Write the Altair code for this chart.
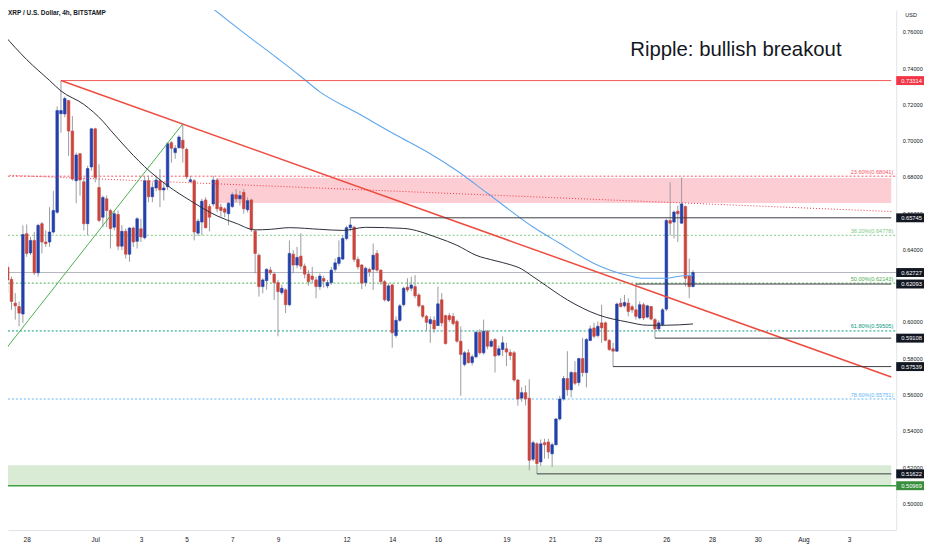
import altair as alt
import pandas as pd

# ---------------- data ----------------
START = "2021-06-28T00:00:00Z"      # 4h bar index 0
FIRST_BAR = -5                       # index of the first candle in the lists

opens = [0.6302,0.6235,0.6104,0.6085,0.6044,
 0.6487,0.6381,0.6450,0.6271,0.6542,0.6441,0.6441,0.6496,0.6605,0.7149,0.7147,0.7221,0.7053,0.6779,0.6928,0.6773,0.6542,0.6855,0.7065,0.6742,
 0.6578,0.6679,0.6615,0.6523,0.6593,0.6418,0.6500,0.6374,0.6518,0.6445,0.6514,0.6465,0.6779,0.6691,0.6739,0.6779,0.6728,0.6746,0.6989,0.6934,
 0.6961,0.7002,0.6952,0.6775,0.6779,0.6490,0.6551,0.6673,0.6637,0.6651,0.6783,0.6633,0.6624,0.6597,0.6637,0.6702,0.6679,0.6715,0.6619,0.6673,
 0.6501,0.6368,0.6195,0.6228,0.6286,0.6264,0.6217,0.6162,0.6177,0.6095,0.6374,0.6314,0.6363,0.6308,0.6264,0.6253,0.6232,0.6195,0.6240,0.6199,
 0.6217,0.6290,0.6323,0.6347,0.6460,0.6520,0.6523,0.6345,0.6314,0.6217,0.6290,0.6290,0.6378,0.6286,0.6222,0.6118,0.6204,0.5925,0.6009,0.6095,
 0.6192,0.6186,0.6195,0.6149,0.6089,0.6031,0.5991,0.6009,0.5980,0.6122,0.6035,0.6035,0.6031,0.6003,0.5894,0.5766,0.5830,0.5776,0.5808,0.5943,
 0.5830,0.5948,0.5866,0.5903,0.5818,0.5848,0.5852,0.5832,0.5830,0.5680,0.5580,0.5610,0.5579,0.5243,0.5328,0.5228,0.5334,0.5338,0.5273,0.5323,
 0.5465,0.5575,0.5688,0.5626,0.5721,0.5666,0.5798,0.5721,0.5898,0.5967,0.5925,0.5995,0.5995,0.5899,0.5852,0.5839,0.6104,0.6089,0.6104,0.6084,
 0.6067,0.6022,0.6095,0.6027,0.6085,0.6013,0.5962,0.5985,0.6071,0.6560,0.6551,0.6611,0.6545,0.6637,0.6253,0.6195]
highs = [0.6326,0.6250,0.6159,0.6113,0.6533,
 0.6538,0.6469,0.6496,0.6542,0.6551,0.6505,0.6633,0.6724,0.7189,0.73314,0.7243,0.7225,0.7135,0.6934,0.6932,0.6797,0.6861,0.7071,0.7071,0.6870,
 0.6697,0.6697,0.6624,0.6615,0.6615,0.6534,0.6515,0.6523,0.6527,0.6578,0.6569,0.6806,0.6806,0.6770,0.6806,0.6843,0.6770,0.6992,0.6998,0.6976,
 0.7030,0.7093,0.6961,0.6806,0.6788,0.6569,0.6679,0.6688,0.6651,0.6806,0.6794,0.6652,0.6633,0.6660,0.6715,0.6733,0.6724,0.6733,0.6688,0.6679,
 0.6510,0.6378,0.6241,0.6296,0.6304,0.6277,0.6232,0.6205,0.6186,0.6450,0.6396,0.6414,0.6490,0.6322,0.6286,0.6304,0.6250,0.6268,0.6255,0.6232,
 0.6304,0.6350,0.6450,0.6478,0.6530,0.65745,0.6530,0.6360,0.6320,0.6305,0.6300,0.6432,0.6396,0.6290,0.6232,0.6213,0.6213,0.6031,0.6100,0.6195,
 0.6241,0.6250,0.6259,0.6160,0.6095,0.6040,0.6031,0.6031,0.6195,0.6160,0.6040,0.6049,0.6049,0.6013,0.5976,0.5840,0.5850,0.5820,0.5950,0.5960,
 0.6013,0.5955,0.5905,0.5912,0.5870,0.5921,0.5885,0.5848,0.5840,0.5684,0.5640,0.5650,0.5684,0.5345,0.5338,0.5352,0.5356,0.5356,0.5334,0.5470,
 0.5593,0.5702,0.5839,0.5730,0.5784,0.5803,0.5912,0.5912,0.5980,0.5995,0.6003,0.6095,0.6003,0.5905,0.5885,0.6107,0.6131,0.6149,0.6131,0.6095,
 0.62093,0.6113,0.6107,0.6095,0.6089,0.6022,0.6009,0.6077,0.6569,0.6770,0.6615,0.6642,0.6797,0.6642,0.6350,0.6286]
lows = [0.6160,0.6067,0.6013,0.5976,0.5995,
 0.6359,0.6368,0.6259,0.6250,0.6378,0.6414,0.6414,0.6487,0.6597,0.7043,0.7129,0.6916,0.6779,0.6655,0.6697,0.6505,0.6478,0.6834,0.6770,0.6551,
 0.6523,0.6523,0.6405,0.6505,0.6396,0.6396,0.6350,0.6332,0.6414,0.6405,0.6441,0.6455,0.6660,0.6660,0.6721,0.6633,0.6670,0.6728,0.6879,0.6900,
 0.6955,0.6879,0.6788,0.6766,0.6450,0.6474,0.6478,0.6515,0.6500,0.6637,0.6605,0.6581,0.6578,0.6533,0.6628,0.6660,0.6642,0.6597,0.6605,0.6496,
 0.6268,0.6140,0.6158,0.6177,0.6259,0.6122,0.5921,0.6150,0.6049,0.6086,0.6268,0.6296,0.6290,0.6241,0.6200,0.6213,0.6131,0.6177,0.6190,0.6186,
 0.6205,0.6277,0.6308,0.6341,0.6450,0.6500,0.6330,0.6290,0.6181,0.6195,0.6250,0.6177,0.6277,0.6205,0.6113,0.6110,0.5858,0.5913,0.6000,0.6085,
 0.6165,0.6170,0.6131,0.6080,0.6020,0.5949,0.5885,0.5940,0.5980,0.5975,0.5875,0.6000,0.5980,0.5885,0.5593,0.5755,0.5770,0.5760,0.5800,0.5820,
 0.5820,0.5850,0.5860,0.5721,0.5810,0.5812,0.5757,0.5790,0.5670,0.5538,0.5560,0.5540,0.5182,0.5230,0.51622,0.5206,0.5246,0.5246,0.5201,0.5318,
 0.5456,0.5566,0.5593,0.5584,0.5651,0.5648,0.5699,0.5639,0.5894,0.5910,0.5915,0.5885,0.5894,0.5840,0.57539,0.5834,0.6080,0.6080,0.6031,0.6050,
 0.6013,0.6015,0.6010,0.6020,0.6009,0.59108,0.5949,0.5976,0.6060,0.6478,0.6460,0.6441,0.6540,0.6195,0.6131,0.6192]
closes = [0.6232,0.6113,0.6089,0.6049,0.6482,
 0.6378,0.6450,0.6271,0.6533,0.6441,0.6432,0.6496,0.6615,0.7166,0.7166,0.7232,0.7053,0.6788,0.6921,0.6783,0.6542,0.6846,0.7065,0.6797,0.6560,
 0.6687,0.6615,0.6515,0.6597,0.6418,0.6500,0.6374,0.6518,0.6441,0.6569,0.6469,0.6779,0.6691,0.6742,0.6783,0.6728,0.6739,0.6983,0.6958,0.6958,
 0.7020,0.6958,0.6801,0.6784,0.6496,0.6556,0.6666,0.6520,0.6578,0.6783,0.6624,0.6615,0.6605,0.6655,0.6702,0.6679,0.6697,0.6624,0.6669,0.6509,
 0.6378,0.6195,0.6232,0.6290,0.6271,0.6217,0.6167,0.6186,0.6095,0.6378,0.6314,0.6356,0.6308,0.6264,0.6222,0.6235,0.6195,0.6253,0.6225,0.6217,
 0.6286,0.6326,0.6356,0.6460,0.6520,0.6535,0.6345,0.6304,0.6214,0.6296,0.6277,0.6368,0.6286,0.6222,0.6122,0.6199,0.5940,0.6009,0.6089,0.6186,
 0.6177,0.6204,0.6144,0.6089,0.6031,0.5998,0.6013,0.5962,0.6100,0.5995,0.5881,0.6013,0.5991,0.5894,0.5821,0.5830,0.5776,0.5808,0.5943,0.5830,
 0.5948,0.5866,0.5894,0.5812,0.5852,0.5885,0.5834,0.5815,0.5680,0.5575,0.5610,0.5575,0.5237,0.5334,0.5219,0.5328,0.5323,0.5283,0.5323,0.5465,
 0.5575,0.5688,0.5626,0.5721,0.5662,0.5798,0.5721,0.5903,0.5962,0.5921,0.5976,0.5967,0.5899,0.5848,0.5839,0.6099,0.6085,0.6107,0.6058,0.6067,
 0.6031,0.6095,0.6022,0.6089,0.6016,0.5962,0.5995,0.6067,0.6560,0.6545,0.6606,0.6597,0.6651,0.6241,0.6195,0.62727]

# moving averages (bar index, value)
ma_black_bars = [-6,0,6,9,15,20,22,25,31,37,43,50,55,60,64,69,77,83,89,99,108,113,118,123,127,130,132,135,142,150,158,163,168,175]
ma_black = [0.7583,0.7447,0.7332,0.7274,0.7200,0.7107,0.7058,0.6987,0.6856,0.6752,0.6669,0.6585,0.6544,0.6508,0.6511,0.6520,0.6511,0.6505,
            0.6522,0.6516,0.6464,0.6423,0.6368,0.6338,0.6316,0.6292,0.6264,0.6221,0.6122,0.6040,0.5999,0.5982,0.5982,0.5989]
ma_blue_bars = [47,56,66,72,77,87,97,105,113,121,133,140,149,158,162,168,171,175]
ma_blue = [0.7760,0.7611,0.7452,0.7354,0.7269,0.7151,0.7031,0.6940,0.6834,0.6710,0.6524,0.6434,0.6323,0.6256,0.6241,0.6241,0.6251,0.6259]

# drawings
LEFT_BAR, RIGHT_BAR = -6, 227.06          # chart's left / right edge in bar units
VIEW_LEFT_DAY, VIEW_RIGHT_DAY = -0.6014, 37.844
top_line = 0.73314
top_line_start = 9
downtrend = [(9, 0.73314), (RIGHT_BAR, 0.56962)]
uptrend = [(-6, 0.5837), (41, 0.7093)]
dotted_trend = [(-6, 0.6810), (RIGHT_BAR, 0.66092)]
pink_zone = (50, 0.66557, 0.67937)
green_zone = (0.50969, 0.5210)
bottom_line = 0.50969
last_line = 0.62727
ray_prices = [0.65745, 0.62093, 0.59108, 0.57539, 0.51622]
ray_start_bars = [85, 160, 165, 154, 134]
fib_levels = [0.68041, 0.64778, 0.62143, 0.59505, 0.55751]
fib_labels = ["23.60%(0.68041)", "38.20%(0.64778)", "50.00%(0.62143)", "61.80%(0.59505)", "78.60%(0.55751)"]
fib_colors = ["#f7525f", "#81c784", "#4caf50", "#089981", "#64b5f6"]
tag_prices = [0.73314, 0.65745, 0.62727, 0.62093, 0.59108, 0.57539, 0.51622, 0.50969]
tag_colors = ["#f23645", "#131722", "#131722", "#131722", "#131722", "#131722", "#131722", "#388e3c"]
x_tick_dates = ["2021-06-28", "2021-07-01", "2021-07-03", "2021-07-05", "2021-07-07", "2021-07-09", "2021-07-12",
                "2021-07-14", "2021-07-16", "2021-07-19", "2021-07-21", "2021-07-23", "2021-07-26", "2021-07-28",
                "2021-07-30", "2021-08-01", "2021-08-03"]
# 0.62000 is fully covered by the price tags in the reference, so it is not listed
y_ticks = [0.50, 0.52, 0.54, 0.56, 0.58, 0.60, 0.64, 0.66, 0.68, 0.70, 0.72, 0.74, 0.76]
Y_DOMAIN = [0.48522, 0.77203]

# ---------------- helpers ----------------
T0 = pd.Timestamp(START)
def bt(k):
    return (T0 + pd.Timedelta(hours=4 * k)).strftime("%Y-%m-%dT%H:%M:%SZ")
def ms_day(d):
    return int((T0 + pd.Timedelta(days=d)).timestamp() * 1000)

assert len(opens) == len(highs) == len(lows) == len(closes)
candles = pd.DataFrame({
    "t": [bt(FIRST_BAR + i) for i in range(len(opens))],
    "o": opens, "h": highs, "l": lows, "c": closes,
})

FONT = "Liberation Sans, Arial, sans-serif"
W, H = 895, 524
BLUE, RED, WICK = "#2341aa", "#c9463c", "#9a9ca3"
INK = "#131722"

xsc = alt.Scale(type="utc", domain=[ms_day(VIEW_LEFT_DAY), ms_day(VIEW_RIGHT_DAY)])
ysc = alt.Scale(domain=Y_DOMAIN, nice=False, zero=False)
xaxis = alt.Axis(values=[int(pd.Timestamp(d + "T00:00:00Z").timestamp() * 1000) for d in x_tick_dates],
                 labelExpr="utcdate(datum.value) == 1 ? utcFormat(datum.value, '%b') : utcFormat(datum.value, '%-d')",
                 title=None, ticks=False, grid=False, domainColor="#e0e3eb", labelFontSize=6.5,
                 labelColor=INK, labelPadding=7, labelFont=FONT, labelOverlap=False, labelFlush=False)
yaxis = alt.Axis(orient="right", values=y_ticks, format=".5f", title=None, ticks=False, grid=False,
                 domainColor="#e0e3eb", labelFontSize=5.6, labelColor=INK, labelPadding=6,
                 labelFont=FONT, labelOverlap=False)

def X(f="t"):
    return alt.X(f"{f}:T", scale=xsc, axis=xaxis)
def Y(f="p"):
    return alt.Y(f"{f}:Q", scale=ysc, axis=yaxis)

def seg_df(points, gid=0):
    return pd.DataFrame({"t": [bt(k) for k, _ in points], "p": [p for _, p in points], "id": gid})

dummy = alt.Data(values=[{}])

# zones
pink = alt.Chart(pd.DataFrame({"t": [bt(pink_zone[0])], "t2": [bt(RIGHT_BAR)],
                               "p": [pink_zone[1]], "p2": [pink_zone[2]]})).mark_rect(
    color="#fccdd2", clip=True).encode(x=X(), x2="t2:T", y=Y(), y2="p2:Q")
green = alt.Chart(pd.DataFrame({"t": [bt(LEFT_BAR)], "t2": [bt(RIGHT_BAR)],
                                "p": [green_zone[0]], "p2": [green_zone[1]]})).mark_rect(
    color="#d9ebd4", clip=True).encode(x=X(), x2="t2:T", y=Y(), y2="p2:Q")

# fib dashed levels
fib_df = pd.DataFrame({"p": fib_levels, "lab": fib_labels, "col": fib_colors})
fib_lines = alt.Chart(fib_df).mark_rule(strokeDash=[2, 2], strokeWidth=1).encode(
    x=alt.value(0), x2=alt.value(W), y=Y(), color=alt.Color("col:N", scale=None))
fib_text = alt.Chart(fib_df).mark_text(align="right", baseline="bottom", dy=-1.5, fontSize=5.6, font=FONT).encode(
    x=alt.value(892), y=Y(), text="lab:N", color=alt.Color("col:N", scale=None))

last = alt.Chart(pd.DataFrame({"p": [last_line]})).mark_rule(color="#b2b5be", strokeWidth=1).encode(
    x=alt.value(0), x2=alt.value(W), y=Y())

# candles
wicks = alt.Chart(candles).mark_rule(color=WICK, strokeWidth=1, clip=True).encode(x=X(), y=Y("l"), y2="h:Q")
up = "datum.c >= datum.o"
bodies = alt.Chart(candles).mark_bar(size=2.6, strokeWidth=0.6, clip=True).encode(
    x=X(), y=Y("o"), y2="c:Q",
    color=alt.condition(up, alt.value(BLUE), alt.value(RED)),
    stroke=alt.condition(up, alt.value(BLUE), alt.value(RED)))

# moving averages
ma1 = alt.Chart(seg_df(list(zip(ma_black_bars, ma_black)))).mark_line(
    color="#2a2e39", strokeWidth=1, interpolate="monotone", clip=True).encode(x=X(), y=Y())
ma2 = alt.Chart(seg_df(list(zip(ma_blue_bars, ma_blue)))).mark_line(
    color="#5ea6ee", strokeWidth=1.1, interpolate="monotone", clip=True).encode(x=X(), y=Y())

# drawings
dotted = alt.Chart(seg_df(dotted_trend)).mark_line(color="#f23645", strokeDash=[1, 2], strokeWidth=1, clip=True).encode(x=X(), y=Y())
top_h = alt.Chart(seg_df([(top_line_start, top_line), (RIGHT_BAR, top_line)])).mark_line(
    color="#f05b55", strokeWidth=1, clip=True).encode(x=X(), y=Y())
down = alt.Chart(seg_df(downtrend)).mark_line(color="#ef4c40", strokeWidth=1.5, clip=True).encode(x=X(), y=Y())
upl = alt.Chart(seg_df(uptrend)).mark_line(color="#4caf50", strokeWidth=1, clip=True).encode(x=X(), y=Y())
rays_df = pd.concat([seg_df([(s, p), (RIGHT_BAR, p)], i) for i, (s, p) in enumerate(zip(ray_start_bars, ray_prices))])
rays = alt.Chart(rays_df).mark_line(color="#3a3d45", strokeWidth=1, clip=True).encode(x=X(), y=Y(), detail="id:N")
bottom = alt.Chart(pd.DataFrame({"p": [bottom_line]})).mark_rule(color="#43a047", strokeWidth=1.5).encode(
    x=alt.value(0), x2=alt.value(W), y=Y())

# price tags on the right scale
tag_df = pd.DataFrame({"p": tag_prices, "col": tag_colors, "lab": [f"{p:.5f}" for p in tag_prices]})
tags = alt.Chart(tag_df).mark_rule(strokeWidth=9, strokeCap="butt").encode(
    x=alt.value(W), x2=alt.value(W + 29), y=Y(), color=alt.Color("col:N", scale=None))
tag_text = alt.Chart(tag_df).mark_text(align="left", baseline="middle", fontSize=5.8, color="white", font=FONT).encode(
    x=alt.value(W + 5), y=Y(), text="lab:N")

# texts
sym = alt.Chart(dummy).mark_text(align="left", baseline="middle", fontSize=6.5, fontWeight="bold",
                                 color=INK, font=FONT).encode(
    x=alt.value(0), y=alt.value(2.5), text=alt.value("XRP / U.S. Dollar, 4h, BITSTAMP"))
usd = alt.Chart(dummy).mark_text(align="center", baseline="middle", fontSize=5.6, color=INK, font=FONT).encode(
    x=alt.value(910), y=alt.value(5), text=alt.value("USD"))
title = alt.Chart(dummy).mark_text(align="left", baseline="alphabetic", fontSize=20.5, color=INK, font=FONT).encode(
    x=alt.value(627), y=alt.value(46), text=alt.value("Ripple: bullish breakout"))

chart = alt.layer(
    green, pink, fib_lines, last, wicks, bodies, ma1, ma2, dotted, top_h, down, upl, rays, bottom,
    fib_text, tags, tag_text, sym, usd, title
).properties(
    width=W, height=H, background="white",
    autosize=alt.AutoSizeParams(type="none"),
    padding={"left": 0, "top": 0, "right": 28, "bottom": 18},
).configure_view(stroke=None)

chart.save("out.html", embed_options={"renderer": "svg", "actions": False})
